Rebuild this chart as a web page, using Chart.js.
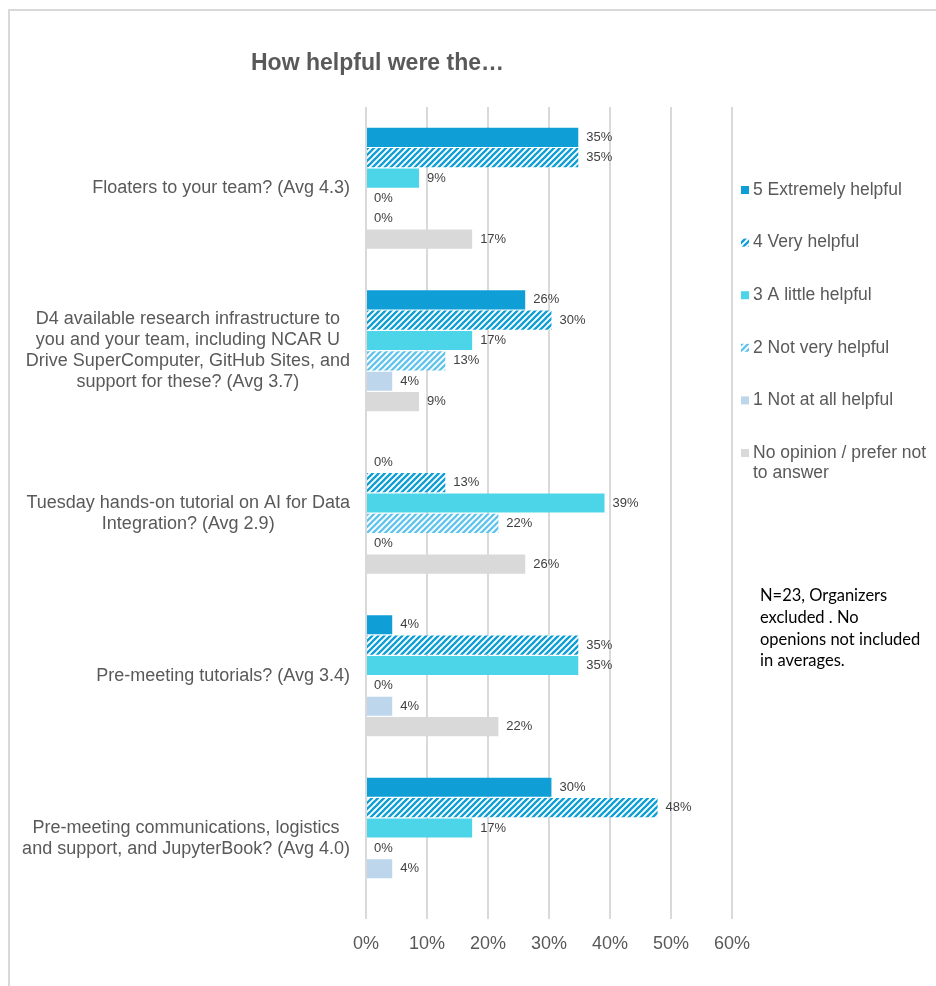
<!DOCTYPE html>
<html>
<head>
<meta charset="utf-8">
<script src="https://cdn.jsdelivr.net/npm/chart.js@4.4.1/dist/chart.umd.min.js"></script>
<style>
  html, body { margin: 0; padding: 0; background: #fff; }
  #wrap { position: relative; width: 936px; height: 986px; }
</style>
</head>
<body>
<div id="wrap"><canvas id="graficoAjuda" width="936" height="986"></canvas></div>
<script>
// categories (one array of lines per label)
const categorias = [
    ['Floaters to your team? (Avg 4.3)'],
    ['D4 available research infrastructure to', 'you and your team, including NCAR U', 'Drive SuperComputer, GitHub Sites, and', 'support for these? (Avg 3.7)'],
    ['Tuesday hands-on tutorial on AI for Data', 'Integration? (Avg 2.9)'],
    ['Pre-meeting tutorials? (Avg 3.4)'],
    ['Pre-meeting communications, logistics', 'and support, and JupyterBook? (Avg 4.0)']
];

const series = ['5 Extremely helpful', '4 Very helpful', '3 A little helpful', '2 Not very helpful', '1 Not at all helpful', 'No opinion / prefer not to answer'];
const legendLines = [['5 Extremely helpful'], ['4 Very helpful'], ['3 A little helpful'], ['2 Not very helpful'], ['1 Not at all helpful'], ['No opinion / prefer not', 'to answer']];

// percent of respondents
const extremamente = [34.8, 26.1, 0, 4.3, 30.4];
const muito = [34.8, 30.4, 13.0, 34.8, 47.8];
const pouco = [8.7, 17.4, 39.1, 34.8, 17.4];
const naoMuito = [0, 13.0, 21.7, 0, 0];
const nada = [0, 4.3, 0, 4.3, 4.3];
const semOpiniao = [17.4, 8.7, 26.1, 21.7, null];

const ticksX = [0, 10, 20, 30, 40, 50, 60];

const notaLinhas = ['N=23, Organizers', 'excluded . No', 'openions not included', 'in averages.'];

function hachura(cor) {
    const c = document.createElement('canvas');
    c.width = 6; c.height = 6;
    const g = c.getContext('2d');
    g.fillStyle = '#ffffff';
    g.fillRect(0, 0, 6, 6);
    g.strokeStyle = cor;
    g.lineWidth = 2.3;
    g.beginPath();
    g.moveTo(-1, 7); g.lineTo(7, -1);
    g.moveTo(-4, 4); g.lineTo(4, -4);
    g.moveTo(2, 10); g.lineTo(10, 2);
    g.stroke();
    return g.createPattern(c, 'repeat');
}

const cores = [
    '#0f9ed5',
    hachura('#0f9ed5'),
    '#4cd5e9',
    hachura('#62c4ec'),
    '#bdd6ec',
    '#d9d9d9'
];

const extras = {
    id: 'extras',
    beforeDraw(chart) {
        const ctx = chart.ctx;
        ctx.save();
        ctx.fillStyle = '#ffffff';
        ctx.fillRect(0, 0, chart.width, chart.height);
        ctx.strokeStyle = '#d9d9d9';
        ctx.lineWidth = 2;
        ctx.beginPath();
        ctx.moveTo(9, chart.height);
        ctx.lineTo(9, 10);
        ctx.lineTo(chart.width, 10);
        ctx.stroke();
        ctx.restore();
    },
    afterDraw(chart) {
        const ctx = chart.ctx;
        const area = chart.chartArea;
        const yScale = chart.scales.y;
        ctx.save();

        // title
        ctx.fillStyle = '#595959';
        ctx.font = "bold 23px 'Liberation Sans', Arial, sans-serif";
        ctx.textAlign = 'left';
        ctx.textBaseline = 'middle';
        ctx.fillText('How helpful were the\u2026', 251, 64);

        // category labels, lines centred inside a right-aligned block
        ctx.font = "18px 'Liberation Sans', Arial, sans-serif";
        ctx.fillStyle = '#595959';
        ctx.textAlign = 'center';
        const lh = 21;
        categorias.forEach(function (linhas, i) {
            const y = yScale.getPixelForValue(i);
            let w = 0;
            linhas.forEach(function (l) { w = Math.max(w, ctx.measureText(l).width); });
            const cx = area.left - 16 - w / 2;
            linhas.forEach(function (l, k) {
                ctx.fillText(l, cx, y - (linhas.length - 1) * lh / 2 + k * lh);
            });
        });

        // value labels
        ctx.font = "13px 'Liberation Sans', Arial, sans-serif";
        ctx.fillStyle = '#404040';
        ctx.textAlign = 'left';
        chart.data.datasets.forEach(function (ds, di) {
            const meta = chart.getDatasetMeta(di);
            meta.data.forEach(function (bar, i) {
                const v = ds.data[i];
                if (v === null || v === undefined) return;
                ctx.fillText(Math.round(v) + '%', bar.x + 8, bar.y);
            });
        });

        // legend
        ctx.font = "17.5px 'Liberation Sans', Arial, sans-serif";
        const lx = area.right + 9;
        legendLines.forEach(function (linhas, i) {
            const y = 190 + i * 52.6;
            ctx.fillStyle = cores[i];
            ctx.fillRect(lx, y - 4, 8, 8);
            ctx.fillStyle = '#595959';
            linhas.forEach(function (l, k) {
                ctx.fillText(l, lx + 12, y + k * 20);
            });
        });

        // note
        ctx.fillStyle = '#000000';
        ctx.font = "16.5px Lato, 'Noto Sans', sans-serif";
        notaLinhas.forEach(function (l, k) {
            ctx.fillText(l, 760, 596 + k * 21.7);
        });
        ctx.restore();
    }
};

window.onload = function () {
    const dados = [extremamente, muito, pouco, naoMuito, nada, semOpiniao];
    const ctxAjuda = document.getElementById('graficoAjuda').getContext('2d');
    const graficoAjuda = new Chart(ctxAjuda, {
        type: 'bar',
        data: {
            labels: categorias,
            datasets: series.map(function (nome, i) {
                return {
                    label: nome,
                    data: dados[i],
                    backgroundColor: cores[i],
                    borderWidth: 0,
                    categoryPercentage: 0.752,
                    barPercentage: 0.94
                };
            })
        },
        options: {
            indexAxis: 'y',
            responsive: false,
            animation: false,
            layout: {
                padding: { left: 366, right: 204, top: 107, bottom: 17 }
            },
            scales: {
                x: {
                    min: 0,
                    max: 60,
                    afterBuildTicks: function (axis) {
                        axis.ticks = ticksX.map(function (v) { return { value: v }; });
                    },
                    grid: {
                        color: '#d9d9d9',
                        lineWidth: 2,
                        drawTicks: false
                    },
                    border: { display: false },
                    ticks: {
                        padding: 14,
                        color: '#595959',
                        font: { size: 18, family: "'Liberation Sans', Arial, sans-serif" },
                        callback: function (value) {
                            return value + '%';
                        }
                    }
                },
                y: {
                    display: false,
                    grid: { display: false }
                }
            },
            plugins: {
                legend: { display: false },
                title: { display: false },
                tooltip: { enabled: false }
            }
        },
        plugins: [extras]
    });
};
</script>
</body>
</html>
